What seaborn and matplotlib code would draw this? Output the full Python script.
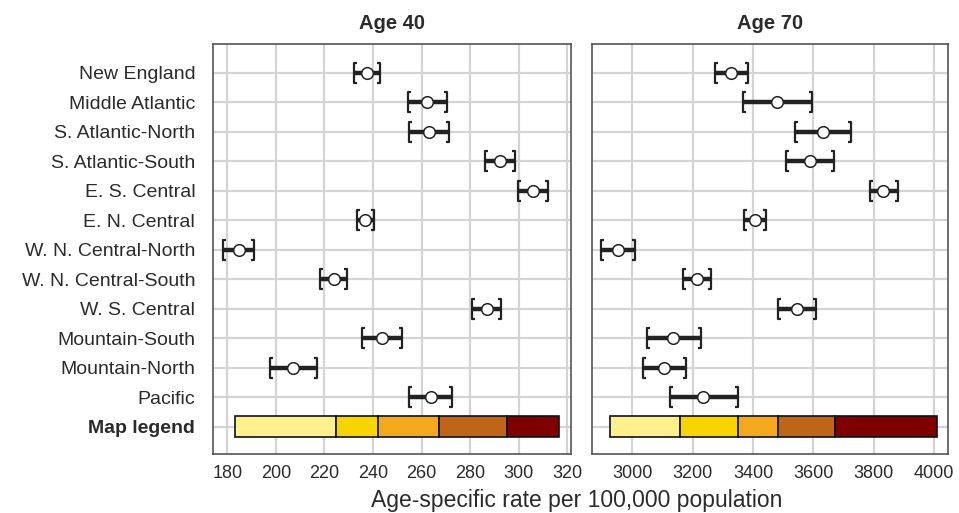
import numpy as np
import pandas as pd
import matplotlib
matplotlib.use("Agg")
import matplotlib.pyplot as plt
from matplotlib.path import Path
import seaborn as sns

regions = ["New England", "Middle Atlantic", "S. Atlantic-North", "S. Atlantic-South",
           "E. S. Central", "E. N. Central", "W. N. Central-North", "W. N. Central-South",
           "W. S. Central", "Mountain-South", "Mountain-North", "Pacific"]

age40_rate = [237.6, 262.4, 263.1, 292.4, 305.7, 236.8, 184.8, 223.8, 286.8, 243.6, 207.2, 263.8]
age40_lo = [232.2, 254.5, 254.9, 286.2, 299.8, 233.3, 178.4, 218.3, 280.8, 235.6, 197.6, 254.9]
age40_hi = [243.0, 270.3, 271.4, 298.5, 311.9, 240.3, 191.0, 229.2, 292.7, 251.8, 216.9, 272.6]

age70_rate = [3327, 3480, 3631, 3589, 3832, 3407, 2953, 3214, 3546, 3136, 3106, 3235]
age70_lo = [3274, 3366, 3539, 3509, 3786, 3370, 2896, 3166, 3482, 3049, 3036, 3123]
age70_hi = [3382, 3595, 3725, 3668, 3880, 3442, 3007, 3262, 3608, 3228, 3177, 3349]

age40_breaks = [183.3, 224.8, 242.2, 267.2, 295.3, 316.7]
age70_breaks = [2925, 3158, 3351, 3481, 3673, 4011]
legend_colors = ["#FEF08A", "#F9D500", "#F4A91D", "#C06418", "#800000"]

age40_ticks = [180, 200, 220, 240, 260, 280, 300, 320]
age70_ticks = [3000, 3200, 3400, 3600, 3800, 4000]

sns.set_theme(style="white")
plt.rcParams['font.family'] = ['Liberation Sans', 'DejaVu Sans']
TXT = "#2b2b2b"

fig = plt.figure(figsize=(9.59, 5.13), dpi=100)
ax1 = fig.add_axes([0.2224, 0.115, 0.3727, 0.799])
ax2 = fig.add_axes([0.617, 0.115, 0.3712, 0.799])

lb = Path([(0.3, 1), (0, 1), (0, -1), (0.3, -1)],
          [Path.MOVETO, Path.LINETO, Path.LINETO, Path.LINETO])
rb = Path([(-0.3, 1), (0, 1), (0, -1), (-0.3, -1)],
          [Path.MOVETO, Path.LINETO, Path.LINETO, Path.LINETO])

def panel(ax, rate, lo, hi, breaks, ticks, xlim, title, show_labels):
    df = pd.DataFrame({"region": regions, "rate": rate, "lo": lo, "hi": hi,
                       "y": np.arange(len(regions))})
    ax.set_xlim(*xlim)
    ax.set_ylim(12.93, -0.97)
    ax.set_xticks(ticks)
    ax.set_yticks(range(len(regions) + 1))
    ax.grid(True, color="#d4d4d4", lw=1.6, zorder=0)
    ax.set_axisbelow(True)
    ax.hlines(df["y"], df["lo"], df["hi"], color="#222222", lw=3.2, zorder=3)
    ax.plot(df["lo"], df["y"], ls="none", marker=lb, ms=14, mfc="none",
            mec="#222222", mew=1.6, zorder=3)
    ax.plot(df["hi"], df["y"], ls="none", marker=rb, ms=14, mfc="none",
            mec="#222222", mew=1.6, zorder=3)
    sns.scatterplot(data=df, x="rate", y="y", ax=ax, s=70, color="white",
                    edgecolor="#222222", linewidth=1.1, zorder=4, legend=False)
    lefts = breaks[:-1]
    widths = np.diff(breaks)
    ax.barh([12] * len(widths), widths, left=lefts, height=0.7,
            color=legend_colors, edgecolor="#111111", lw=1.2, zorder=3)
    ax.set_xlabel("")
    ax.set_ylabel("")
    ax.set_title(title, fontsize=14.5, fontweight="bold", color=TXT, pad=11)
    for s in ax.spines.values():
        s.set_color("#555555")
        s.set_linewidth(1.2)
    ax.tick_params(axis="x", length=5, width=1, color="#555555", labelsize=13,
                   labelcolor=TXT, pad=3)
    ax.tick_params(axis="y", length=5, width=1, color="#555555", labelsize=14,
                   labelcolor=TXT, pad=8)
    if show_labels:
        ax.set_yticklabels(regions + ["Map legend"])
        ax.get_yticklabels()[-1].set_fontweight("bold")
    else:
        ax.set_yticklabels([])
        ax.tick_params(axis="y", length=0)

panel(ax1, age40_rate, age40_lo, age40_hi, age40_breaks, age40_ticks,
      (174.2, 321.4), "Age 40", True)
panel(ax2, age70_rate, age70_lo, age70_hi, age70_breaks, age70_ticks,
      (2865, 4045), "Age 70", False)

fig.text(0.601, 0.002, "Age-specific rate per 100,000 population", ha="center",
         va="bottom", fontsize=16.5, color=TXT)

fig.savefig("out.png", dpi=100)
